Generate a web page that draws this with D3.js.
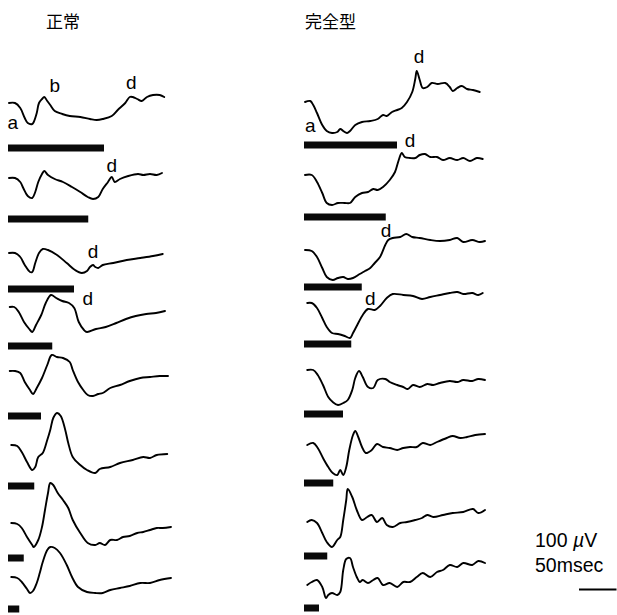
<!DOCTYPE html>
<html>
<head>
<meta charset="utf-8">
<script src="https://cdn.jsdelivr.net/npm/d3@7"></script>
<style>
  html, body { margin: 0; padding: 0; background: #fff; }
  svg { display: block; }
  text { fill: #000; }
</style>
</head>
<body>
<svg id="chart" width="617" height="615"></svg>
<script>
// ERG responses: each trace is a list of [time (ms), amplitude (µV)] samples.
// Column titles
const columnTitles = ["正常", "完全型"];

// Normal subject, long to short stimulus
const normal1 = [[0,0],[8,0],[15,-10],[21,-30],[25,-40],[31,-42],[33,-38],[37,-20],[40,0],[44,8],[47,12],[51,4],[55,-4],[61,-16],[71,-22],[81,-26],[95,-28],[108,-32],[117,-34],[125,-32],[137,-26],[145,-14],[155,0],[161,12],[165,12],[171,8],[177,4],[184,12],[192,16],[201,16],[207,12]];
const normal2 = [[0,0],[8,0],[15,-8],[19,-20],[25,-36],[31,-40],[35,-28],[39,-8],[44,8],[47,14],[52,6],[61,-2],[72,-8],[84,-18],[95,-28],[105,-38],[112,-42],[119,-38],[125,-22],[132,-8],[137,2],[141,-8],[148,-2],[159,4],[172,8],[179,6],[188,8],[197,6],[204,10]];
const normal3 = [[0,0],[8,0],[15,-8],[21,-24],[28,-38],[31,-38],[35,-20],[40,0],[45,8],[52,6],[64,-4],[77,-20],[88,-34],[97,-40],[104,-36],[108,-28],[112,-24],[115,-28],[119,-30],[125,-24],[139,-20],[157,-14],[175,-10],[192,-6],[205,-2]];
const normal4 = [[1,0],[7,0],[13,-10],[20,-30],[27,-44],[31,-50],[36,-36],[43,-16],[49,8],[56,24],[63,18],[71,12],[80,8],[87,-2],[93,-30],[100,-46],[104,-50],[116,-44],[129,-40],[143,-32],[156,-24],[169,-18],[183,-14],[196,-12],[208,-8]];
const normal5 = [[1,0],[8,0],[15,-4],[21,-22],[28,-38],[32,-46],[37,-34],[44,-14],[51,12],[57,32],[64,28],[72,26],[81,18],[85,2],[92,-22],[99,-38],[105,-48],[112,-50],[119,-46],[125,-44],[135,-34],[148,-28],[161,-20],[175,-14],[188,-12],[201,-10],[212,-10]];
const normal6 = [[3,0],[11,-2],[17,-14],[24,-34],[31,-50],[35,-44],[39,-24],[45,-16],[51,10],[55,30],[59,54],[64,64],[69,58],[75,30],[79,4],[85,-24],[95,-40],[104,-50],[115,-56],[121,-48],[135,-44],[148,-36],[165,-30],[179,-24],[188,-26],[197,-20],[211,-18]];
const normal7 = [[3,0],[11,-2],[17,-10],[24,-28],[31,-44],[33,-48],[39,-34],[44,-8],[48,26],[52,60],[55,80],[59,76],[65,60],[72,46],[79,30],[85,6],[95,-20],[105,-40],[115,-44],[121,-40],[128,-44],[135,-34],[144,-34],[152,-28],[161,-26],[171,-20],[179,-18],[188,-14],[197,-10],[205,-10],[216,-8]];
const normal8 = [[3,0],[11,-2],[17,-10],[24,-24],[28,-32],[32,-28],[37,-12],[41,8],[45,30],[51,54],[55,60],[61,58],[68,48],[77,24],[84,0],[92,-20],[104,-30],[115,-32],[125,-32],[135,-26],[148,-22],[161,-18],[175,-12],[188,-12],[201,-6],[216,-2]];

// Complete-type subject, long to short stimulus
const complete1 = [[0,0],[7,2],[11,-6],[16,-22],[23,-46],[29,-58],[36,-62],[43,-60],[47,-54],[51,-58],[56,-62],[60,-58],[67,-46],[76,-40],[87,-38],[97,-34],[104,-26],[109,-28],[116,-20],[123,-16],[129,-12],[136,0],[143,20],[147,46],[149,62],[153,44],[157,28],[163,30],[169,38],[177,36],[187,38],[193,30],[197,22],[203,28],[209,32],[216,26],[224,24],[233,20]];
const complete2 = [[0,0],[9,0],[16,-14],[23,-36],[29,-56],[36,-60],[44,-56],[53,-56],[60,-56],[67,-44],[76,-36],[84,-34],[91,-28],[97,-30],[104,-24],[113,-10],[120,6],[125,30],[129,44],[133,36],[140,34],[147,34],[153,40],[160,42],[167,36],[176,36],[184,30],[193,34],[203,30],[211,34],[220,28],[229,34],[237,32]];
const complete3 = [[0,0],[9,-2],[16,-14],[23,-36],[29,-54],[37,-60],[44,-56],[51,-54],[57,-58],[64,-56],[73,-48],[80,-42],[87,-36],[93,-26],[100,-14],[107,10],[111,20],[117,24],[127,26],[135,32],[143,26],[153,24],[167,20],[180,18],[193,20],[203,24],[211,16],[223,20],[233,16],[240,18]];
const complete4 = [[3,0],[9,0],[16,-10],[23,-30],[29,-48],[36,-60],[44,-62],[53,-66],[60,-70],[64,-60],[71,-40],[77,-24],[84,-12],[93,-14],[100,-6],[109,10],[117,18],[131,16],[144,14],[156,8],[167,12],[180,16],[193,20],[203,22],[211,18],[223,20],[231,16],[237,20]];
const complete5 = [[3,0],[11,0],[17,-10],[24,-30],[31,-54],[37,-64],[44,-70],[51,-66],[57,-60],[63,-40],[67,-16],[72,-2],[77,-14],[84,-34],[91,-36],[97,-20],[107,-18],[113,-24],[123,-30],[131,-34],[137,-38],[144,-30],[153,-34],[163,-28],[171,-30],[180,-26],[193,-22],[203,-24],[211,-20],[223,-22],[231,-18],[240,-20]];
const complete6 = [[3,0],[11,4],[17,-6],[24,-26],[31,-44],[37,-56],[43,-60],[47,-50],[51,-60],[55,-44],[59,-10],[64,20],[67,28],[71,16],[76,-4],[81,-16],[89,-10],[96,2],[104,-4],[113,-6],[123,-10],[131,-6],[140,-4],[149,-4],[157,4],[167,0],[176,6],[189,14],[197,18],[207,14],[216,16],[227,20],[240,22]];
const complete7 = [[3,0],[9,4],[16,-2],[23,-22],[29,-40],[36,-50],[43,-36],[47,-30],[51,4],[55,44],[57,66],[63,50],[69,24],[76,4],[83,10],[89,14],[96,0],[103,8],[109,-6],[117,-10],[127,-2],[136,0],[147,4],[156,8],[163,14],[171,10],[184,14],[197,18],[211,20],[224,26],[231,18],[240,24]];
const complete8 = [[3,0],[9,6],[16,10],[23,-4],[28,-26],[31,-20],[36,-16],[43,-20],[47,-14],[51,30],[55,52],[60,54],[64,36],[69,16],[73,6],[77,10],[84,4],[91,10],[97,14],[104,0],[113,4],[123,-4],[131,6],[140,6],[149,16],[157,24],[167,16],[176,26],[184,30],[193,40],[203,36],[211,44],[223,40],[231,48],[240,44]];

// Stimulus durations (ms) under each trace
const normalStim = [128, 107, 88, 59, 44, 35, 21, 15];
const completeStim = [124, 109, 77, 63, 52, 39, 31, 20];

// Wave labels, placed in each trace's own [ms, µV] coordinates
const normalLabels = [[0, "a", 5, -52], [0, "b", 61, 22], [0, "d", 163, 28], [1, "d", 137, 12], [2, "d", 112, -10], [3, "d", 105, 4]];
const completeLabels = [[0, "a", 7, -60], [0, "d", 152, 78], [1, "d", 140, 56], [2, "d", 108, 26], [3, "d", 87, -4]];

// Calibration
const calibLabels = ["100 ", "µ", "V"];
const calibTime = "50msec";
const calibMs = 50;

// ---- layout ----
const svg = d3.select("#chart");
const pxPerMs = 0.75;
const pxPerUv = 0.5;

const columns = [
  { title: columnTitles[0], traces: [normal1, normal2, normal3, normal4, normal5, normal6, normal7, normal8],
    stim: normalStim, labels: normalLabels, left: 9, titleX: 46,
    base: [103, 178, 253, 307, 371, 445, 523, 577], barY: [148, 219, 289, 346, 416, 486, 558, 609] },
  { title: columnTitles[1], traces: [complete1, complete2, complete3, complete4, complete5, complete6, complete7, complete8],
    stim: completeStim, labels: completeLabels, left: 305, titleX: 305,
    base: [102, 175, 250, 303, 370, 445, 522, 585], barY: [145, 217, 287, 344, 414, 483, 556, 608] }
];

const x = d3.scaleLinear().domain([0, 250]).range([0, 250 * pxPerMs]);
const y = d3.scaleLinear().domain([-100, 100]).range([100 * pxPerUv, -100 * pxPerUv]);

const line = d3.line()
  .x(d => x(d[0]))
  .y(d => y(d[1]))
  .curve(d3.curveCatmullRom.alpha(0.5));

columns.forEach(col => {
  const g = svg.append("g").attr("transform", `translate(${col.left},0)`);

  svg.append("text")
    .attr("x", col.titleX)
    .attr("y", 28)
    .attr("font-family", "'Noto Sans CJK JP', sans-serif")
    .attr("font-size", 17)
    .text(col.title);

  col.traces.forEach((tr, i) => {
    const row = g.append("g").attr("transform", `translate(0,${col.base[i]})`);
    row.append("path")
      .datum(tr)
      .attr("d", line)
      .attr("fill", "none")
      .attr("stroke", "#000")
      .attr("stroke-width", 1.9)
      .attr("stroke-linejoin", "round")
      .attr("stroke-linecap", "round");

    // stimulus bar
    g.append("rect")
      .attr("x", x(0) - 1)
      .attr("y", col.barY[i] - 3.5)
      .attr("width", x(col.stim[i]))
      .attr("height", 7)
      .attr("fill", "#0a0a0a");
  });

  col.labels.forEach(([r, txt, ms, uv]) => {
    g.append("text")
      .attr("x", x(ms))
      .attr("y", col.base[r] + y(uv))
      .attr("text-anchor", "middle")
      .attr("font-family", "'Liberation Sans', Arial, sans-serif")
      .attr("font-size", 19)
      .text(txt);
  });
});

// calibration mark
const cal = svg.append("g").attr("transform", "translate(535,0)");
const t1 = cal.append("text")
  .attr("y", 547)
  .attr("font-family", "'Liberation Sans', Arial, sans-serif")
  .attr("font-size", 19.5);
t1.append("tspan").text(calibLabels[0]);
t1.append("tspan").attr("font-style", "italic").text(calibLabels[1]);
t1.append("tspan").text(calibLabels[2]);
cal.append("text")
  .attr("y", 572)
  .attr("font-family", "'Liberation Sans', Arial, sans-serif")
  .attr("font-size", 19.5)
  .text(calibTime);
svg.append("line")
  .attr("x1", 579)
  .attr("x2", 579 + x(calibMs))
  .attr("y1", 589.5)
  .attr("y2", 589.5)
  .attr("stroke", "#000")
  .attr("stroke-width", 2);
</script>
</body>
</html>
